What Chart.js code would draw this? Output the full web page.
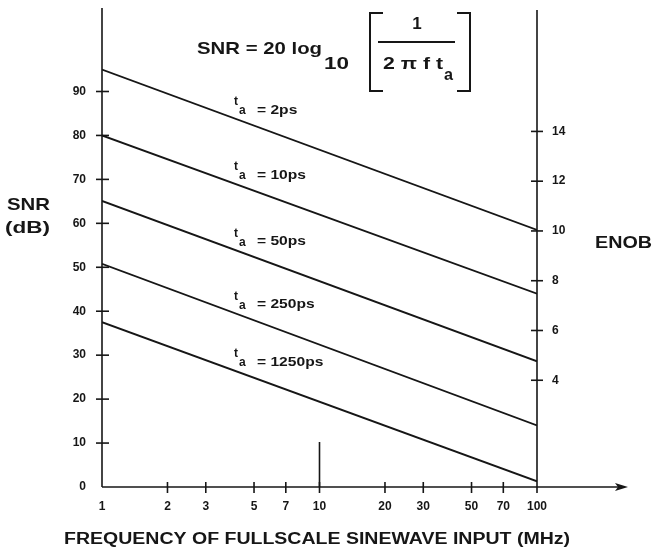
<!DOCTYPE html>
<html>
<head>
<meta charset="utf-8">
<title>SNR vs aperture jitter</title>
<script src="https://cdn.jsdelivr.net/npm/chart.js@4.4.1/dist/chart.umd.min.js"></script>
<style>
  html, body { margin: 0; padding: 0; background: #fff; }
  #wrap { width: 654px; height: 553px; position: relative; }
</style>
</head>
<body>
<div id="wrap"><canvas id="chart"></canvas></div>
<script>
// values
const freqMHz = [1, 100];
const apertureLabels = ['2ps', '10ps', '50ps', '250ps', '1250ps'];
const snrAt1MHz = [95, 80, 65.1, 50.8, 37.5];
const snrAt100MHz = [58.5, 44, 28.6, 14, 1.3];
const xTicks = [1, 2, 3, 5, 7, 10, 20, 30, 50, 70, 100];
const snrTicks = [0, 10, 20, 30, 40, 50, 60, 70, 80, 90];
const enobTicks = [4, 6, 8, 10, 12, 14];

const INK = '#161616';
const FONT = '"Liberation Sans", Arial, Helvetica, sans-serif';

function seg(ctx, x1, y1, x2, y2) {
  ctx.beginPath();
  ctx.moveTo(x1, y1);
  ctx.lineTo(x2, y2);
  ctx.stroke();
}

// draw text, optionally stretched horizontally
function text(ctx, str, x, y, size, width, align) {
  ctx.save();
  ctx.font = `bold ${size}px ${FONT}`;
  ctx.textBaseline = 'middle';
  ctx.textAlign = align || 'left';
  const w = ctx.measureText(str).width;
  ctx.translate(x, y);
  if (width) ctx.scale(width / w, 1);
  ctx.fillText(str, 0, 0);
  ctx.restore();
}

// axes, crossing tick marks, formula and curve labels
const figureAnnotations = {
  id: 'figureAnnotations',
  afterDraw(chart) {
    const { ctx, chartArea: a, scales } = chart;
    const { x, y, enob } = scales;
    ctx.save();
    ctx.strokeStyle = INK;
    ctx.fillStyle = INK;
    ctx.lineWidth = 1.6;

    // axis lines
    seg(ctx, a.left, a.top, a.left, a.bottom);
    seg(ctx, a.right, a.top + 2, a.right, a.bottom + 6);
    seg(ctx, a.left, a.bottom, 620, a.bottom);
    ctx.beginPath();
    ctx.moveTo(628, a.bottom);
    ctx.lineTo(615, a.bottom - 4);
    ctx.lineTo(618, a.bottom);
    ctx.lineTo(615, a.bottom + 4);
    ctx.closePath();
    ctx.fill();

    // tick marks across the axes
    y.ticks.forEach(t => {
      const py = y.getPixelForValue(t.value);
      if (t.value > 0) seg(ctx, a.left - 6, py, a.left + 7, py);
    });
    enob.ticks.forEach(t => {
      const py = enob.getPixelForValue(t.value);
      seg(ctx, a.right - 6, py, a.right + 6, py);
    });
    x.ticks.forEach(t => {
      if (t.value === 1 || t.value === 100) return;
      const px = x.getPixelForValue(t.value);
      seg(ctx, px, a.bottom - 5, px, a.bottom + 6);
    });

    // marker at 10 MHz
    const p10 = x.getPixelForValue(10);
    seg(ctx, p10, a.bottom - 45, p10, a.bottom);

    // axis titles
    text(ctx, 'SNR', 7, 205, 17, 43);
    text(ctx, '(dB)', 5, 228, 17, 45);
    text(ctx, 'ENOB', 595, 243, 17, 57);
    text(ctx, 'FREQUENCY OF FULLSCALE SINEWAVE INPUT (MHz)', 64, 540, 16, 506);

    // formula
    text(ctx, 'SNR = 20 log', 197, 49, 17, 125);
    text(ctx, '10', 324, 65, 16, 25);
    text(ctx, '1', 417, 24, 17, null, 'center');
    text(ctx, '2 π f t', 383, 64, 17, 60);
    text(ctx, 'a', 444, 76, 16, 9);
    ctx.lineWidth = 2;
    seg(ctx, 378, 42, 455, 42);
    ctx.beginPath();
    ctx.moveTo(383, 13); ctx.lineTo(370, 13); ctx.lineTo(370, 91); ctx.lineTo(383, 91);
    ctx.moveTo(457, 13); ctx.lineTo(470, 13); ctx.lineTo(470, 91); ctx.lineTo(457, 91);
    ctx.stroke();

    // curve labels, placed just above each line
    chart.data.datasets.forEach((ds, i) => {
      const meta = chart.getDatasetMeta(i);
      const p0 = meta.data[0], p1 = meta.data[meta.data.length - 1];
      const ly = p0.y + (p1.y - p0.y) * (255 - p0.x) / (p1.x - p0.x) - 16;
      const str = '= ' + apertureLabels[i];
      ctx.font = `bold 13px ${FONT}`;
      text(ctx, 't', 234, ly - 8, 12);
      text(ctx, 'a', 239, ly + 1, 12);
      text(ctx, str, 257, ly, 13, ctx.measureText(str).width * 1.2);
    });
    ctx.restore();
  }
};

const tickFont = { family: FONT, size: 12, weight: 'bold' };

// keep the plot area fixed: no extra padding from tick labels
function noPad(s) {
  s.paddingTop = 0; s.paddingBottom = 0;
  s.paddingLeft = 0; s.paddingRight = 0;
}

new Chart(document.getElementById('chart'), {
  type: 'line',
  data: {
    datasets: apertureLabels.map((lab, i) => ({
      label: 'ta = ' + lab,
      data: [
        { x: freqMHz[0], y: snrAt1MHz[i] },
        { x: freqMHz[1], y: snrAt100MHz[i] }
      ],
      borderColor: INK,
      borderWidth: 1.8,
      pointRadius: 0,
      fill: false,
      tension: 0
    }))
  },
  options: {
    responsive: true,
    maintainAspectRatio: false,
    animation: false,
    layout: { padding: { top: 8 } },
    plugins: { legend: { display: false }, tooltip: { enabled: false } },
    scales: {
      x: {
        type: 'logarithmic',
        min: 1,
        max: 100,
        afterBuildTicks: s => { s.ticks = xTicks.map(v => ({ value: v })); },
        afterFit: s => { s.height = 66; noPad(s); },
        grid: { display: false, drawTicks: false },
        border: { display: false },
        ticks: {
          autoSkip: false, maxRotation: 0, padding: 12,
          color: INK, font: tickFont,
          callback: v => String(v)
        }
      },
      y: {
        position: 'left',
        min: 0,
        max: 109,
        afterBuildTicks: s => { s.ticks = snrTicks.map(v => ({ value: v })); },
        afterFit: s => { s.width = 102; noPad(s); },
        grid: { display: false, drawTicks: false },
        border: { display: false },
        ticks: { padding: 16, color: INK, font: tickFont }
      },
      enob: {
        position: 'right',
        min: -0.29,
        max: 18.96,
        afterBuildTicks: s => { s.ticks = enobTicks.map(v => ({ value: v })); },
        afterFit: s => { s.width = 117; noPad(s); },
        grid: { display: false, drawTicks: false },
        border: { display: false },
        ticks: { padding: 15, color: INK, font: tickFont }
      }
    }
  },
  plugins: [figureAnnotations]
});
</script>
</body>
</html>
